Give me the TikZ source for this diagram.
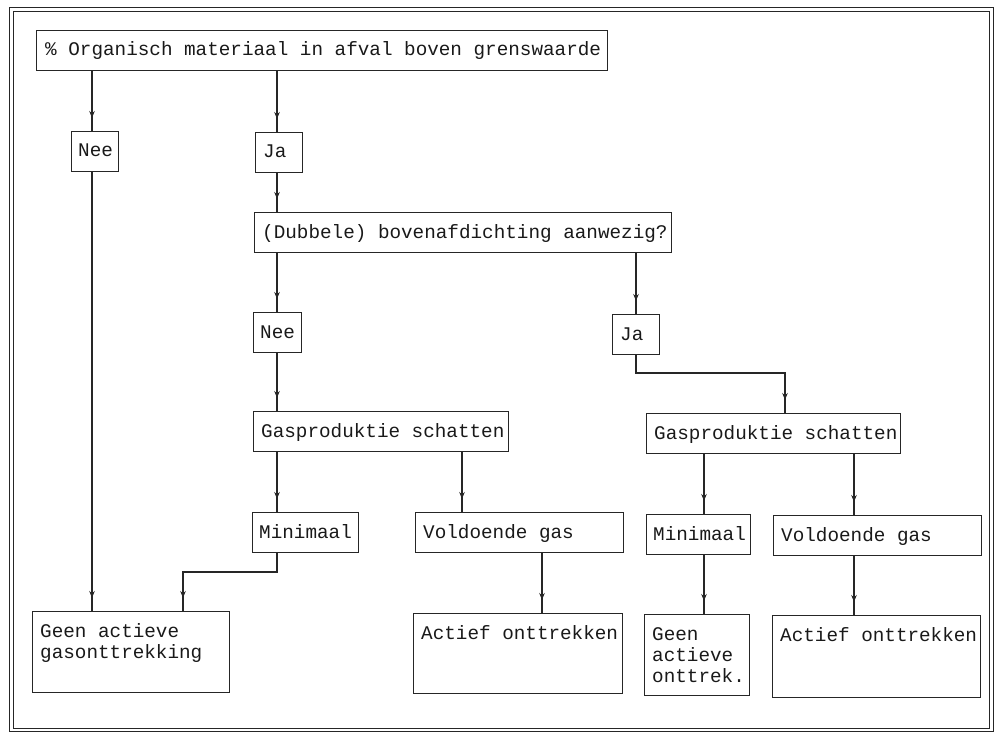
\documentclass[tikz,border=0pt]{standalone}
\usepackage{fontspec}
\newfontfamily\tw{Liberation Mono}
\usetikzlibrary{arrows.meta,decorations.markings,calc}
\newcommand\ml[1]{\begin{tabular}[t]{@{}l@{}}#1\end{tabular}}
\begin{document}
\begin{tikzpicture}[x=1pt,y=-1pt,
  ink/.style={draw=black!85, line width=1.3pt},
  box/.style={ink, rectangle, inner sep=0pt, anchor=north west},
  txt/.style={inner sep=0pt, anchor=base west, text=black!90, font=\tw\fontsize{19.3}{21}\selectfont},
  arr/.style={ink, decoration={markings, mark=at position -13pt with {\arrow[black!85, line width=1pt]{Stealth[length=7pt,width=5.5pt]}}}, postaction={decorate}}
]
\useasboundingbox (0,0) rectangle (997,733);
% frame
\draw[ink, line width=1pt] (9,8) rectangle (993,731.5);
\draw[ink, line width=1pt] (13,12) rectangle (989,728);

% columns
\coordinate (c1) at (92,0);
\coordinate (c2) at (277,0);
\coordinate (c4) at (462,0);
\coordinate (c5) at (542,0);
\coordinate (c6) at (636,0);
\coordinate (c8) at (704,0);
\coordinate (c9) at (854,0);
\coordinate (j2a) at (636,373);
\coordinate (j2b) at (785,373);
\coordinate (m1a) at (277,572);
\coordinate (m1b) at (183,572);

% boxes
\node[box, minimum width=571pt, minimum height=40pt] (top) at (36,30) {};
\node[box, minimum width=47pt, minimum height=40pt] (nee1) at (71,131) {};
\node[box, minimum width=47pt, minimum height=40pt] (ja1) at (255,132) {};
\node[box, minimum width=417pt, minimum height=40pt] (dub) at (254,212) {};
\node[box, minimum width=48pt, minimum height=40pt] (nee2) at (253,312) {};
\node[box, minimum width=47pt, minimum height=40pt] (ja2) at (612,314) {};
\node[box, minimum width=255pt, minimum height=40pt] (gas1) at (253,411) {};
\node[box, minimum width=254pt, minimum height=40pt] (gas2) at (646,413) {};
\node[box, minimum width=106pt, minimum height=40pt] (min1) at (252,512) {};
\node[box, minimum width=208pt, minimum height=40pt] (vol1) at (415,512) {};
\node[box, minimum width=104pt, minimum height=40pt] (min2) at (646,514) {};
\node[box, minimum width=208pt, minimum height=40pt] (vol2) at (773,515) {};
\node[box, minimum width=197pt, minimum height=81pt] (geen1) at (32,611) {};
\node[box, minimum width=209pt, minimum height=80pt] (act1) at (413,613) {};
\node[box, minimum width=105pt, minimum height=81pt] (geen2) at (644,614) {};
\node[box, minimum width=208pt, minimum height=82pt] (act2) at (772,615) {};

% texts
\node[txt] (ttop) at ([shift={(9,26)}]top.north west) {\% Organisch materiaal in afval boven grenswaarde};
\node[txt] (tnee1) at ([shift={(7,26)}]nee1.north west) {Nee};
\node[txt] (tja1) at ([shift={(8,26)}]ja1.north west) {Ja};
\node[txt] (tdub) at ([shift={(8,26)}]dub.north west) {(Dubbele) bovenafdichting aanwezig?};
\node[txt] (tnee2) at ([shift={(7,26)}]nee2.north west) {Nee};
\node[txt] (tja2) at ([shift={(8,26)}]ja2.north west) {Ja};
\node[txt] (tgas1) at ([shift={(8,26)}]gas1.north west) {Gasproduktie schatten};
\node[txt] (tgas2) at ([shift={(8,26)}]gas2.north west) {Gasproduktie schatten};
\node[txt] (tmin1) at ([shift={(7,26)}]min1.north west) {Minimaal};
\node[txt] (tvol1) at ([shift={(8,26)}]vol1.north west) {Voldoende gas};
\node[txt] (tmin2) at ([shift={(7,26)}]min2.north west) {Minimaal};
\node[txt] (tvol2) at ([shift={(8,26)}]vol2.north west) {Voldoende gas};
\node[txt] (tgeen1) at ([shift={(8,26)}]geen1.north west) {\ml{Geen actieve\\gasonttrekking}};
\node[txt] (tact1) at ([shift={(8,26)}]act1.north west) {Actief onttrekken};
\node[txt] (tgeen2) at ([shift={(8,26)}]geen2.north west) {\ml{Geen\\actieve\\onttrek.}};
\node[txt] (tact2) at ([shift={(8,26)}]act2.north west) {Actief onttrekken};

% connectors
\draw[arr] (top.south -| c1) -- (nee1.north -| c1);
\draw[arr] (nee1.south -| c1) -- (geen1.north -| c1);
\draw[arr] (top.south -| c2) -- (ja1.north -| c2);
\draw[arr] (ja1.south -| c2) -- (dub.north -| c2);
\draw[arr] (dub.south -| c2) -- (nee2.north -| c2);
\draw[arr] (dub.south -| c6) -- (ja2.north -| c6);
\draw[arr] (nee2.south -| c2) -- (gas1.north -| c2);
\draw[arr] (ja2.south -| c6) -- (j2a) -- (j2b) -- (gas2.north -| j2b);
\draw[arr] (gas1.south -| c2) -- (min1.north -| c2);
\draw[arr] (gas1.south -| c4) -- (vol1.north -| c4);
\draw[arr] (min1.south -| c2) -- (m1a) -- (m1b) -- (geen1.north -| m1b);
\draw[arr] (vol1.south -| c5) -- (act1.north -| c5);
\draw[arr] (gas2.south -| c8) -- (min2.north -| c8);
\draw[arr] (gas2.south -| c9) -- (vol2.north -| c9);
\draw[arr] (min2.south -| c8) -- (geen2.north -| c8);
\draw[arr] (vol2.south -| c9) -- (act2.north -| c9);
\end{tikzpicture}
\end{document}
